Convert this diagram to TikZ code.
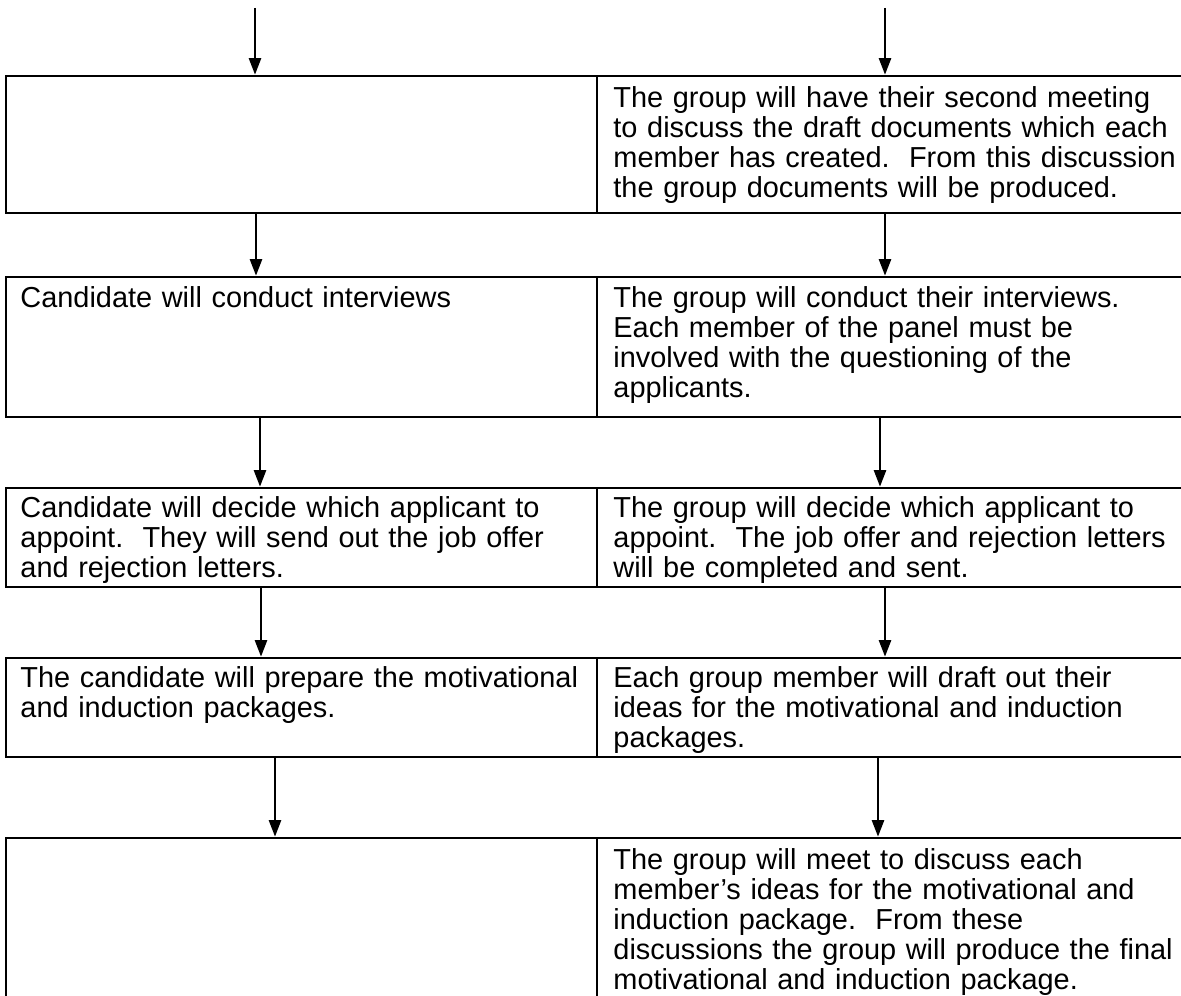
\documentclass[tikz,border=0pt]{standalone}
\usepackage{fontspec}
\setmainfont{Liberation Sans}
\usetikzlibrary{arrows.meta,fit}
\begin{document}
\begin{tikzpicture}[x=0.46pt,y=-0.46pt,
  cell/.style={draw,line width=1.25pt,inner sep=0pt},
  arr/.style={line width=0.95pt,-{Triangle[width=5.6pt,length=7.6pt]}},
  txt/.style={anchor=base west,inner sep=0pt,text width=300pt,align=left,font=\fontsize{13.3}{13.8}\selectfont}]
\useasboundingbox (0,0) rectangle (1181,996);
\fill[white] (0,0) rectangle (1181,996);
\clip (0,0) rectangle (1181,996);
% cells
\node[cell,fit={(6,76) (597,213)}] (L1) {};
\node[cell,fit={(597,76) (1195,213)}] (R1) {};
\node[cell,fit={(6,277) (597,417)}] (L2) {};
\node[cell,fit={(597,277) (1195,417)}] (R2) {};
\node[cell,fit={(6,488) (597,587)}] (L3) {};
\node[cell,fit={(597,488) (1195,587)}] (R3) {};
\node[cell,fit={(6,658) (597,757)}] (L4) {};
\node[cell,fit={(597,658) (1195,757)}] (R4) {};
\node[cell,fit={(6,838) (597,1010)}] (L5) {};
\node[cell,fit={(597,838) (1195,1010)}] (R5) {};
% texts
\node[txt] (tR1) at (613,108) {The group will have their second meeting\\ to discuss the draft documents which each\\ member has created.\ \ From this discussion\\ the group documents will be produced.};
\node[txt] (tL2) at (20,308) {Candidate will conduct interviews};
\node[txt] (tR2) at (613,308) {The group will conduct their interviews.\\ Each member of the panel must be\\ involved with the questioning of the\\ applicants.};
\node[txt] (tL3) at (20,518) {Candidate will decide which applicant to\\ appoint.\ \ They will send out the job offer\\ and rejection letters.};
\node[txt] (tR3) at (613,518) {The group will decide which applicant to\\ appoint.\ \ The job offer and rejection letters\\ will be completed and sent.};
\node[txt] (tL4) at (20,688) {The candidate will prepare the motivational\\ and induction packages.};
\node[txt] (tR4) at (613,688) {Each group member will draft out their\\ ideas for the motivational and induction\\ packages.};
\node[txt] (tR5) at (613,870) {The group will meet to discuss each\\ member’s ideas for the motivational and\\ induction package.\ \ From these\\ discussions the group will produce the final\\ motivational and induction package.};
% arrow x positions
\coordinate (s1) at (255,8);
\coordinate (s2) at (885,8);
\coordinate (xa) at (256,0);
\coordinate (xb) at (885,0);
\coordinate (xc) at (260,0);
\coordinate (xd) at (880,0);
\coordinate (xe) at (261,0);
\coordinate (xf) at (885,0);
\coordinate (xg) at (275,0);
\coordinate (xh) at (878,0);
% arrows
\draw[arr] (s1) -- (s1 |- L1.north);
\draw[arr] (s2) -- (s2 |- R1.north);
\draw[arr] (xa |- L1.south) -- (xa |- L2.north);
\draw[arr] (xb |- R1.south) -- (xb |- R2.north);
\draw[arr] (xc |- L2.south) -- (xc |- L3.north);
\draw[arr] (xd |- R2.south) -- (xd |- R3.north);
\draw[arr] (xe |- L3.south) -- (xe |- L4.north);
\draw[arr] (xf |- R3.south) -- (xf |- R4.north);
\draw[arr] (xg |- L4.south) -- (xg |- L5.north);
\draw[arr] (xh |- R4.south) -- (xh |- R5.north);
\end{tikzpicture}
\end{document}
